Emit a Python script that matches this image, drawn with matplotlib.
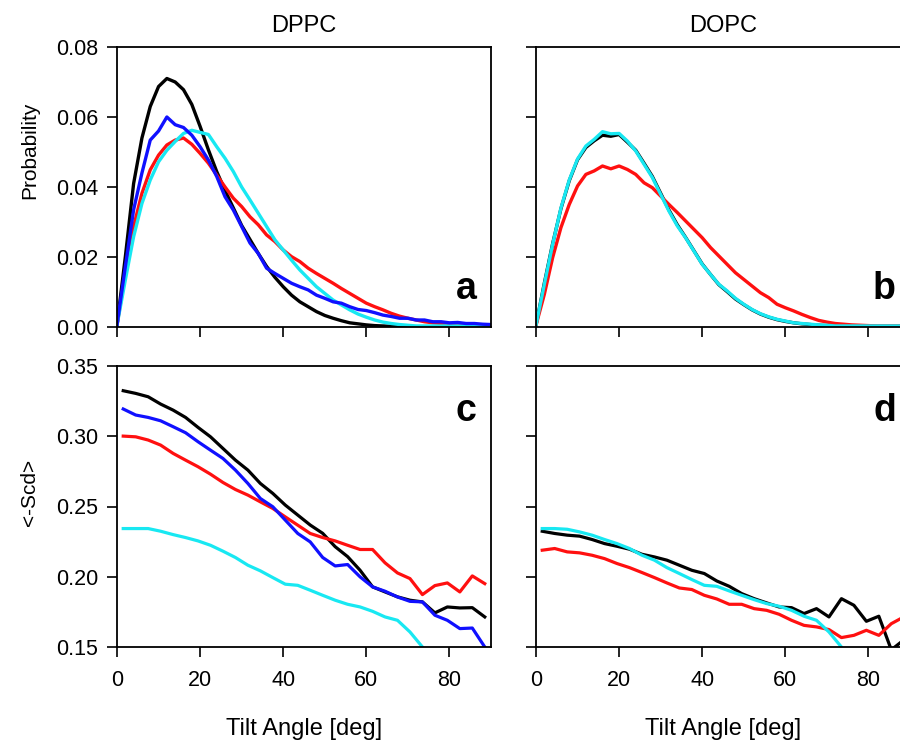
import numpy as np
import matplotlib
matplotlib.use("Agg")
import matplotlib.pyplot as plt

plt.rcParams['font.family'] = ['Liberation Sans', 'DejaVu Sans']

# ---------------- data ----------------
# tilt-angle grid for probability distributions (deg)
theta_p = list(range(0, 91, 2))

dppc_prob_black = [0.0005, 0.0200, 0.0410, 0.0540, 0.0630, 0.0687, 0.0710, 0.0700, 0.0678, 0.0636,
                   0.0573, 0.0506, 0.0444, 0.0390, 0.0340, 0.0290, 0.0250, 0.0210, 0.0173, 0.0142,
                   0.0115, 0.0091, 0.0072, 0.0058, 0.0044, 0.0033, 0.0025, 0.0018, 0.0012, 0.0009,
                   0.0006, 0.0004, 0.0003, 0.0002, 0.0001, 0.0001, 0.0001, 0.0001, 0.0001, 0.0001,
                   0.0001, 0.0001, 0.0001, 0.0001, 0.0001, 0.0001]
dppc_prob_red = [0.0005, 0.0153, 0.0287, 0.0382, 0.0449, 0.0491, 0.0520, 0.0534, 0.0540, 0.0522,
                 0.0496, 0.0468, 0.0434, 0.0400, 0.0368, 0.0344, 0.0315, 0.0292, 0.0263, 0.0244,
                 0.0220, 0.0201, 0.0187, 0.0168, 0.0153, 0.0139, 0.0125, 0.0110, 0.0096, 0.0082,
                 0.0068, 0.0058, 0.0049, 0.0039, 0.0031, 0.0025, 0.0020, 0.0015, 0.0012, 0.0010,
                 0.0009, 0.0008, 0.0007, 0.0006, 0.0005, 0.0005]
dppc_prob_blue = [0.0005, 0.0172, 0.0335, 0.0440, 0.0534, 0.0560, 0.0600, 0.0578, 0.0570, 0.0548,
                  0.0515, 0.0477, 0.0430, 0.0372, 0.0334, 0.0287, 0.0240, 0.0210, 0.0168, 0.0153,
                  0.0139, 0.0125, 0.0115, 0.0106, 0.0091, 0.0082, 0.0072, 0.0068, 0.0058, 0.0050,
                  0.0047, 0.0041, 0.0034, 0.0030, 0.0025, 0.0025, 0.0020, 0.0020, 0.0015, 0.0015,
                  0.0012, 0.0013, 0.0010, 0.0010, 0.0008, 0.0007]
dppc_prob_cyan = [0.0005, 0.0134, 0.0258, 0.0353, 0.0420, 0.0472, 0.0505, 0.0530, 0.0553, 0.0562,
                  0.0556, 0.0550, 0.0515, 0.0482, 0.0444, 0.0400, 0.0363, 0.0325, 0.0287, 0.0249,
                  0.0220, 0.0191, 0.0163, 0.0139, 0.0115, 0.0096, 0.0077, 0.0063, 0.0049, 0.0037,
                  0.0028, 0.0020, 0.0014, 0.0010, 0.0007, 0.0005, 0.0003, 0.0003, 0.0003, 0.0003,
                  0.0003, 0.0003, 0.0003, 0.0003, 0.0003, 0.0003]

dopc_prob_black = [0.0005, 0.0125, 0.0238, 0.0338, 0.0418, 0.0478, 0.0513, 0.0532, 0.0548, 0.0545,
                   0.0550, 0.0528, 0.0505, 0.0468, 0.0430, 0.0382, 0.0334, 0.0292, 0.0256, 0.0218,
                   0.0180, 0.0150, 0.0121, 0.0101, 0.0080, 0.0064, 0.0049, 0.0037, 0.0028, 0.0021,
                   0.0016, 0.0012, 0.0009, 0.0007, 0.0005, 0.0004, 0.0002, 0.0002, 0.0002, 0.0002,
                   0.0002, 0.0002, 0.0002, 0.0002, 0.0002, 0.0002]
dopc_prob_red = [0.0005, 0.0093, 0.0198, 0.0284, 0.0350, 0.0403, 0.0436, 0.0446, 0.0460, 0.0452,
                 0.0460, 0.0450, 0.0436, 0.0412, 0.0398, 0.0374, 0.0350, 0.0327, 0.0303, 0.0279,
                 0.0255, 0.0227, 0.0203, 0.0179, 0.0155, 0.0136, 0.0117, 0.0098, 0.0084, 0.0065,
                 0.0055, 0.0046, 0.0036, 0.0027, 0.0019, 0.0014, 0.0010, 0.0008, 0.0006, 0.0005,
                 0.0004, 0.0003, 0.0003, 0.0003, 0.0003, 0.0003]
dopc_prob_cyan = [0.0005, 0.0122, 0.0236, 0.0340, 0.0420, 0.0480, 0.0517, 0.0536, 0.0558, 0.0552,
                  0.0553, 0.0531, 0.0503, 0.0465, 0.0427, 0.0379, 0.0331, 0.0289, 0.0255, 0.0217,
                  0.0179, 0.0150, 0.0122, 0.0103, 0.0082, 0.0065, 0.0050, 0.0038, 0.0029, 0.0022,
                  0.0017, 0.0012, 0.0010, 0.0008, 0.0006, 0.0005, 0.0003, 0.0003, 0.0003, 0.0003,
                  0.0003, 0.0003, 0.0003, 0.0003, 0.0003, 0.0003]

# tilt-angle bin centres for order parameter (deg)
theta_s = [1.5 + 3 * i for i in range(30)]

dppc_scd_black = [0.3324, 0.3305, 0.3281, 0.3229, 0.3186, 0.3134, 0.3063, 0.2996, 0.2913, 0.2830,
                  0.2759, 0.2664, 0.2593, 0.2510, 0.2439, 0.2368, 0.2309, 0.2214, 0.2143, 0.2046,
                  0.1928, 0.1892, 0.1857, 0.1833, 0.1821, 0.1743, 0.1785, 0.1778, 0.1780, 0.1714]
dppc_scd_red = [0.3001, 0.2996, 0.2973, 0.2937, 0.2878, 0.2830, 0.2783, 0.2730, 0.2671, 0.2621,
                0.2581, 0.2533, 0.2486, 0.2426, 0.2367, 0.2308, 0.2279, 0.2255, 0.2224, 0.2194,
                0.2194, 0.2099, 0.2027, 0.1987, 0.1873, 0.1937, 0.1956, 0.1892, 0.2006, 0.1951]
dppc_scd_blue = [0.3194, 0.3151, 0.3134, 0.3110, 0.3068, 0.3025, 0.2961, 0.2901, 0.2842, 0.2759,
                 0.2664, 0.2557, 0.2498, 0.2403, 0.2308, 0.2248, 0.2137, 0.2077, 0.2087, 0.1999,
                 0.1928, 0.1897, 0.1856, 0.1825, 0.1821, 0.1726, 0.1690, 0.1631, 0.1635, 0.1500]
dppc_scd_cyan = [0.2343, 0.2343, 0.2343, 0.2324, 0.2300, 0.2279, 0.2255, 0.2224, 0.2182, 0.2137,
                 0.2082, 0.2042, 0.1994, 0.1947, 0.1939, 0.1904, 0.1868, 0.1833, 0.1804, 0.1785,
                 0.1754, 0.1714, 0.1690, 0.1607, 0.1500]

dopc_scd_black = [0.2324, 0.2308, 0.2296, 0.2289, 0.2265, 0.2236, 0.2217, 0.2196, 0.2160, 0.2141,
                  0.2118, 0.2082, 0.2046, 0.2023, 0.1970, 0.1932, 0.1880, 0.1844, 0.1814, 0.1785,
                  0.1780, 0.1738, 0.1773, 0.1714, 0.1844, 0.1797, 0.1683, 0.1719, 0.1480, 0.1550]
dopc_scd_red = [0.2189, 0.2201, 0.2177, 0.2170, 0.2153, 0.2129, 0.2094, 0.2065, 0.2030, 0.1994,
                0.1956, 0.1920, 0.1909, 0.1868, 0.1842, 0.1804, 0.1804, 0.1773, 0.1761, 0.1733,
                0.1690, 0.1654, 0.1643, 0.1624, 0.1567, 0.1583, 0.1619, 0.1583, 0.1666, 0.1714]
dopc_scd_cyan = [0.2343, 0.2343, 0.2338, 0.2319, 0.2296, 0.2265, 0.2236, 0.2201, 0.2153, 0.2118,
                 0.2065, 0.2023, 0.1980, 0.1939, 0.1932, 0.1899, 0.1868, 0.1837, 0.1809, 0.1790,
                 0.1761, 0.1719, 0.1690, 0.1607, 0.1500]

column_titles = ["DPPC", "DOPC"]
panel_letters = ["a", "b", "c", "d"]
xticks = [0, 20, 40, 60, 80]
prob_ticks = [0.00, 0.02, 0.04, 0.06, 0.08]
scd_ticks = [0.15, 0.20, 0.25, 0.30, 0.35]

# ---------------- styling ----------------
C_BLACK = "black"
C_RED = "#ff1010"
C_BLUE = "#1010ff"
C_CYAN = "#18e8f2"
W, H = 900, 742

fig = plt.figure(figsize=(9, 7.42), dpi=100)

def px_axes(x0, y_top, w, h):
    return fig.add_axes([x0 / W, 1 - (y_top + h) / H, w / W, h / H])

axA = px_axes(117, 47, 374, 280)
axB = px_axes(536, 47, 374, 280)
axC = px_axes(117, 366, 374, 281)
axD = px_axes(536, 366, 374, 281)

lw_top = 2.4
lw_bot = 2.3

def plot_series(ax, x, ys, lw):
    for y, c in ys:
        n = len(y)
        ax.plot(x[:n], y, color=c, lw=lw, solid_joinstyle='round')

plot_series(axA, theta_p, [(dppc_prob_black, C_BLACK), (dppc_prob_red, C_RED),
                           (dppc_prob_cyan, C_CYAN), (dppc_prob_blue, C_BLUE)], lw_top)
plot_series(axB, theta_p, [(dopc_prob_black, C_BLACK), (dopc_prob_red, C_RED),
                           (dopc_prob_cyan, C_CYAN)], lw_top)
plot_series(axC, theta_s, [(dppc_scd_black, C_BLACK), (dppc_scd_red, C_RED),
                           (dppc_scd_blue, C_BLUE), (dppc_scd_cyan, C_CYAN)], lw_bot)
plot_series(axD, theta_s, [(dopc_scd_black, C_BLACK), (dopc_scd_red, C_RED),
                           (dopc_scd_cyan, C_CYAN)], lw_bot)

for ax in (axA, axB, axC, axD):
    ax.set_xlim(0, 90)
    ax.set_xticks(xticks)
    ax.tick_params(direction='out', length=7.5, width=1.2, labelsize=15.5, color='black')
    ax.tick_params(axis='y', pad=6)
    ax.tick_params(axis='x', pad=9)
    for s in ax.spines.values():
        s.set_linewidth(1.3)

for ax in (axA, axB):
    ax.set_ylim(0, 0.08)
    ax.set_yticks(prob_ticks)
    ax.set_xticklabels([])
for ax in (axC, axD):
    ax.set_ylim(0.15, 0.35)
    ax.set_yticks(scd_ticks)
    ax.set_xticklabels([str(t) for t in xticks])

axA.set_yticklabels([f"{t:.2f}" for t in prob_ticks])
axC.set_yticklabels([f"{t:.2f}" for t in scd_ticks])
axB.set_yticklabels([])
axD.set_yticklabels([])

# panel letters
for ax, letter, yb in zip((axA, axB, axC, axD), panel_letters, (0.10, 0.10, 0.805, 0.805)):
    ax.text(0.962, yb, letter, transform=ax.transAxes, ha='right', va='baseline',
            fontsize=27, fontweight='bold')

# titles
fig.text(304 / W, 1 - 26 / H, column_titles[0], ha='center', va='center', fontsize=17)
fig.text(723 / W, 1 - 26 / H, column_titles[1], ha='center', va='center', fontsize=17)

# x labels
fig.text(304 / W, 1 - 729 / H, "Tilt Angle [deg]", ha='center', va='center', fontsize=17)
fig.text(723 / W, 1 - 729 / H, "Tilt Angle [deg]", ha='center', va='center', fontsize=17)

# y labels
fig.text(30 / W, 1 - 150 / H, "Probability", rotation=90, ha='center', va='center', fontsize=15)
fig.text(30 / W, 1 - 492 / H, "<-Scd>", rotation=90, ha='center', va='center', fontsize=15)

fig.savefig("out.png", dpi=100)
